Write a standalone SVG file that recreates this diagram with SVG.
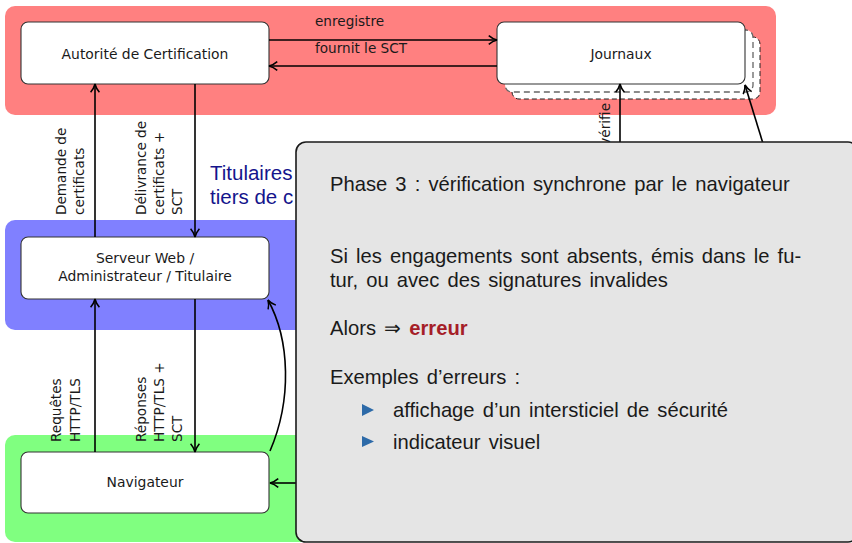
<svg xmlns="http://www.w3.org/2000/svg" width="852" height="543" viewBox="0 0 852 543">
<style>
.node{fill:#fff;stroke:#333;stroke-width:1.1}
.nt{font-family:"DejaVu Sans",sans-serif;font-size:13.9px;fill:#1a1a1a;text-anchor:middle}
.lbl{font-family:"DejaVu Sans",sans-serif;font-size:13.6px;fill:#1a1a1a}
.conn{fill:none;stroke:#000;stroke-width:1.6}
.bt{font-family:"Liberation Sans",Arial,sans-serif;font-size:20.2px;word-spacing:2.5px;fill:#1a1a1a}
.ttl{font-family:"Liberation Sans",Arial,sans-serif;font-size:20.5px;fill:#14148c}
</style>
<defs>
<marker id="arr" viewBox="0 0 10 10" refX="9" refY="5" markerWidth="11" markerHeight="11" orient="auto" markerUnits="userSpaceOnUse">
<path d="M1.5,1 Q5,4 9,5 Q5,6 1.5,9" fill="none" stroke="#000" stroke-width="1.4"/>
</marker>
</defs>
<g id="backgrounds">
<rect x="5" y="6" width="771" height="109" rx="10" fill="#ff8080"/>
<rect x="5" y="220" width="771" height="110" rx="10" fill="#8080ff"/>
<rect x="5" y="435" width="771" height="107" rx="10" fill="#80ff80"/>
<text class="ttl" x="210" y="180">Titulaires</text>
<text class="ttl" x="210" y="204">tiers de c</text>
</g>
<g id="ca">
<rect class="node" x="21" y="22" width="248" height="62" rx="7"/>
<text class="nt" x="145" y="59">Autorité de Certification</text>
</g>
<g id="journaux">
<rect x="512" y="37" width="248" height="62" rx="7" fill="#fff" stroke="#222" stroke-width="1" stroke-dasharray="5,3"/>
<rect x="505" y="30" width="248" height="62" rx="7" fill="#fff" stroke="#666" stroke-width="1.3" stroke-dasharray="6,4"/>
<rect class="node" x="497" y="22" width="248" height="62" rx="7"/>
<text class="nt" x="621" y="59">Journaux</text>
</g>
<g id="serveur">
<rect class="node" x="21" y="237" width="248" height="62" rx="7"/>
<text class="nt" x="145" y="263">Serveur Web /</text>
<text class="nt" x="145" y="281">Administrateur / Titulaire</text>
</g>
<g id="navigateur">
<rect class="node" x="21" y="452" width="248" height="61" rx="7"/>
<text class="nt" x="145" y="487">Navigateur</text>
</g>
<g id="connectors">
<line class="conn" x1="269" y1="40" x2="497" y2="40" marker-end="url(#arr)"/>
<line class="conn" x1="497" y1="66" x2="269" y2="66" marker-end="url(#arr)"/>
<line class="conn" x1="95" y1="237" x2="95" y2="84" marker-end="url(#arr)"/>
<line class="conn" x1="195" y1="84" x2="195" y2="237" marker-end="url(#arr)"/>
<line class="conn" x1="95" y1="452" x2="95" y2="299" marker-end="url(#arr)"/>
<line class="conn" x1="195" y1="299" x2="195" y2="452" marker-end="url(#arr)"/>
<path class="conn" d="M270,451 C292,400 290,340 268,300" marker-end="url(#arr)"/>
<line class="conn" x1="300" y1="483" x2="270" y2="483" marker-end="url(#arr)"/>
<line class="conn" x1="620" y1="150" x2="620" y2="84" marker-end="url(#arr)"/>
<line class="conn" x1="765" y1="150" x2="745" y2="85" marker-end="url(#arr)"/>
<text class="lbl" x="315" y="26">enregistre</text>
<text class="lbl" x="315" y="53">fournit le SCT</text>
<text class="lbl" transform="rotate(-90 66 215)" x="66" y="215">Demande de</text>
<text class="lbl" transform="rotate(-90 84 215)" x="84" y="215">certificats</text>
<text class="lbl" transform="rotate(-90 146 215)" x="146" y="215">Délivrance de</text>
<text class="lbl" transform="rotate(-90 164 215)" x="164" y="215">certificats +</text>
<text class="lbl" transform="rotate(-90 182 215)" x="182" y="215">SCT</text>
<text class="lbl" transform="rotate(-90 61 442)" x="61" y="442">Requêtes</text>
<text class="lbl" transform="rotate(-90 80 442)" x="80" y="442">HTTP/TLS</text>
<text class="lbl" transform="rotate(-90 146 442)" x="146" y="442">Réponses</text>
<text class="lbl" transform="rotate(-90 164 442)" x="164" y="442">HTTP/TLS +</text>
<text class="lbl" transform="rotate(-90 182 442)" x="182" y="442">SCT</text>
<text class="lbl" transform="rotate(-90 610 103)" x="610" y="103" text-anchor="end">vérifie</text>
</g>
<g id="phase3">
<rect x="296" y="142" width="562" height="400" rx="10" fill="#e5e5e5" stroke="#1a1a1a" stroke-width="1.6"/>
<text class="bt" x="330" y="191">Phase 3 : vérification synchrone par le navigateur</text>
<text class="bt" x="330" y="263">Si les engagements sont absents, émis dans le fu-</text>
<text class="bt" x="330" y="287">tur, ou avec des signatures invalides</text>
<text class="bt" x="330" y="335">Alors ⇒ <tspan font-weight="bold" fill="#a51e28">erreur</tspan></text>
<text class="bt" x="330" y="384">Exemples d’erreurs :</text>
<path d="M362,404 L374,410 L362,416 Z" fill="#2d6aa8"/>
<text class="bt" x="393" y="417">affichage d’un intersticiel de sécurité</text>
<path d="M362,436 L374,441.5 L362,447 Z" fill="#2d6aa8"/>
<text class="bt" x="393" y="449">indicateur visuel</text>
</g>
</svg>
